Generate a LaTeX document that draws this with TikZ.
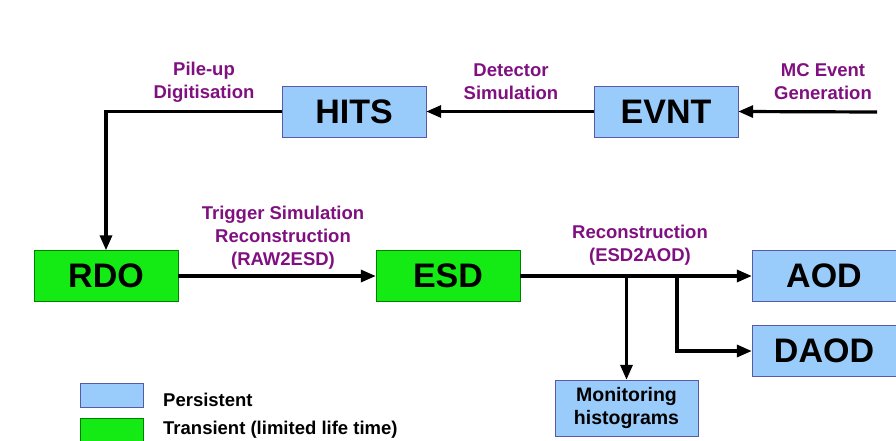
\documentclass[tikz,border=0pt]{standalone}
\usepackage{fontspec}
\setmainfont{Liberation Sans}
\usetikzlibrary{arrows.meta, positioning}
\definecolor{persblue}{RGB}{153, 204, 250}
\definecolor{transgreen}{RGB}{20, 235, 20}
\definecolor{steppurple}{RGB}{128, 16, 128}

\begin{document}
\begin{tikzpicture}[
  x=1pt, y=-1pt,
  pers/.style={draw=gray!70!blue, fill=persblue, minimum width=144pt, minimum height=51pt, inner sep=0pt, font=\fontsize{34}{38}\selectfont\bfseries},
  trans/.style={pers, draw=green!50!black, fill=transgreen},
  stlab/.style={text=steppurple, align=center, inner sep=0pt, font=\fontsize{18.5}{23}\selectfont\bfseries},
  arr/.style={line width=3.2pt, -{Triangle[length=15pt, width=12pt]}},
  legtxt/.style={anchor=west, inner sep=0pt, font=\fontsize{18.5}{22}\selectfont\bfseries}
]
  \useasboundingbox (0,0) rectangle (896,441);

  % data formats
  \node[pers] (hits) at (354, 111.5) {HITS};
  \node[pers] (evnt) at (666, 111.5) {EVNT};
  \node[trans] (rdo) at (106, 276) {RDO};
  \node[trans] (esd) at (448, 276) {ESD};
  \node[pers] (aod) at (824, 276) {AOD};
  \node[pers] (daod) at (824, 351) {DAOD};
  \node[pers, minimum width=143pt, minimum height=56pt, align=center, font=\fontsize{19.5}{23}\selectfont\bfseries] (mon) at (626.5, 408) {Monitoring\\histograms};

  % step labels
  \node[stlab] (pileup) at (204, 82) {Pile-up\\Digitisation};
  \node[stlab] (detsim) at (511, 82) {Detector\\Simulation};
  \node[stlab] (mcgen) at (823, 82) {MC Event\\Generation};
  \node[stlab] (trigreco) at (283, 238) {Trigger Simulation\\Reconstruction\\(RAW2ESD)};
  \node[stlab] (esdreco) at (640, 245) {Reconstruction\\(ESD2AOD)};

  % chain
  \coordinate (mcin) at (877, 112);
  \coordinate (split) at (677, 277);
  \draw[arr] (mcin) -- (evnt.east);
  \draw[arr] (evnt.west) -- (hits.east);
  \draw[arr] (hits.west) -| (rdo.north);
  \draw[arr] (rdo.east) -- (esd.west);
  \draw[arr] (esd.east) -- (aod.west);
  \draw[arr] (mon.north |- esd.east) -- (mon.north);
  \draw[arr] (split) |- (daod.west);

  % legend
  \node[pers, minimum width=63pt, minimum height=24pt] (legpers) at (111.5, 395) {};
  \node[trans, minimum width=63pt, minimum height=24pt] (legtrans) at (111.5, 430) {};
  \node[legtxt] (perstxt) at (163, 400) {Persistent};
  \node[legtxt] (transtxt) at (163, 430) {Transient (limited life time)};
\end{tikzpicture}
\end{document}
